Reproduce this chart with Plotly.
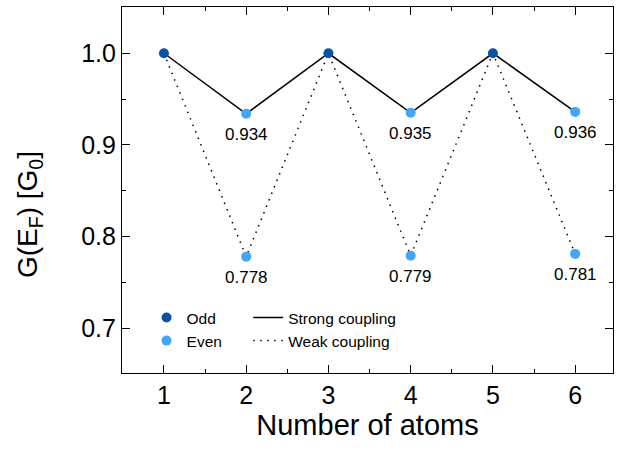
import plotly.graph_objects as go

atoms_odd = [1, 3, 5]
g_odd = [1.0, 1.0, 1.0]
atoms_even = [2, 4, 6]
g_even_strong = [0.934, 0.935, 0.936]
g_even_weak = [0.778, 0.779, 0.781]
atoms_all = [1, 2, 3, 4, 5, 6]
g_strong = [1.0, 0.934, 1.0, 0.935, 1.0, 0.936]
g_weak = [1.0, 0.778, 1.0, 0.779, 1.0, 0.781]
labels_strong = ["0.934", "0.935", "0.936"]
labels_weak = ["0.778", "0.779", "0.781"]

FONT = "Arial, Liberation Sans, sans-serif"
DARK = "#0a52a4"
LIGHT = "#42a5f5"

fig = go.Figure()
fig.add_trace(go.Scatter(x=atoms_all, y=g_strong, mode="lines",
                         line=dict(color="black", width=1.5),
                         name="Strong coupling", legend="legend2"))
fig.add_trace(go.Scatter(x=atoms_all, y=g_weak, mode="lines",
                         line=dict(color="black", width=1.5, dash="1.5px,5.5px"),
                         name="Weak coupling", legend="legend2"))
fig.add_trace(go.Scatter(x=atoms_odd, y=g_odd, mode="markers",
                         marker=dict(color=DARK, size=10),
                         name="Odd", legend="legend"))
fig.add_trace(go.Scatter(x=atoms_even + atoms_even, y=g_even_strong + g_even_weak,
                         mode="markers", marker=dict(color=LIGHT, size=10),
                         name="Even", legend="legend"))

for x, y, t in zip(atoms_even + atoms_even, g_even_strong + g_even_weak,
                   labels_strong + labels_weak):
    fig.add_annotation(x=x, y=y, text=t, showarrow=False, yshift=-21,
                       font=dict(family=FONT, size=17, color="black"))

# y-axis title as annotation (placed slightly below the plot centre, as in the reference)
fig.add_annotation(xref="paper", yref="paper", x=-0.187, y=0.432, textangle=-90,
                   text="G(E<sub>F</sub>) [G<sub>0</sub>]", showarrow=False,
                   xanchor="center", yanchor="middle",
                   font=dict(family=FONT, size=28, color="black"))

axis_common = dict(showline=True, linecolor="black", linewidth=1.2, mirror="allticks",
                   ticks="inside", ticklen=8, tickwidth=1.2, tickcolor="black",
                   showgrid=False, zeroline=False,
                   tickfont=dict(family=FONT, size=25, color="black"))

fig.update_xaxes(range=[0.49, 6.46], tickvals=atoms_all,
                 minor=dict(ticks="inside", ticklen=4, tickwidth=1.2, tickcolor="black",
                            dtick=0.5, tick0=0.5, showgrid=False),
                 title=dict(text="Number of atoms", standoff=6,
                            font=dict(family=FONT, size=29, color="black")),
                 **axis_common)
fig.update_yaxes(range=[0.651, 1.0505], tickvals=[0.7, 0.8, 0.9, 1.0],
                 ticktext=["0.7", "0.8", "0.9", "1.0"],
                 minor=dict(ticks="inside", ticklen=4, tickwidth=1.2, tickcolor="black",
                            dtick=0.05, tick0=0.65, showgrid=False),
                 **axis_common)

legend_common = dict(font=dict(family=FONT, size=15.5, color="black"),
                     bgcolor="rgba(0,0,0,0)", borderwidth=0,
                     xanchor="left", yanchor="top", tracegroupgap=0)
fig.update_layout(
    width=618, height=453,
    margin=dict(l=122, r=5, t=7, b=80, autoexpand=False),
    plot_bgcolor="white", paper_bgcolor="white",
    showlegend=True,
    legend=dict(x=0.05, y=0.197, **legend_common),
    legend2=dict(x=0.257, y=0.197, **legend_common),
)

fig.write_html("out.html")
